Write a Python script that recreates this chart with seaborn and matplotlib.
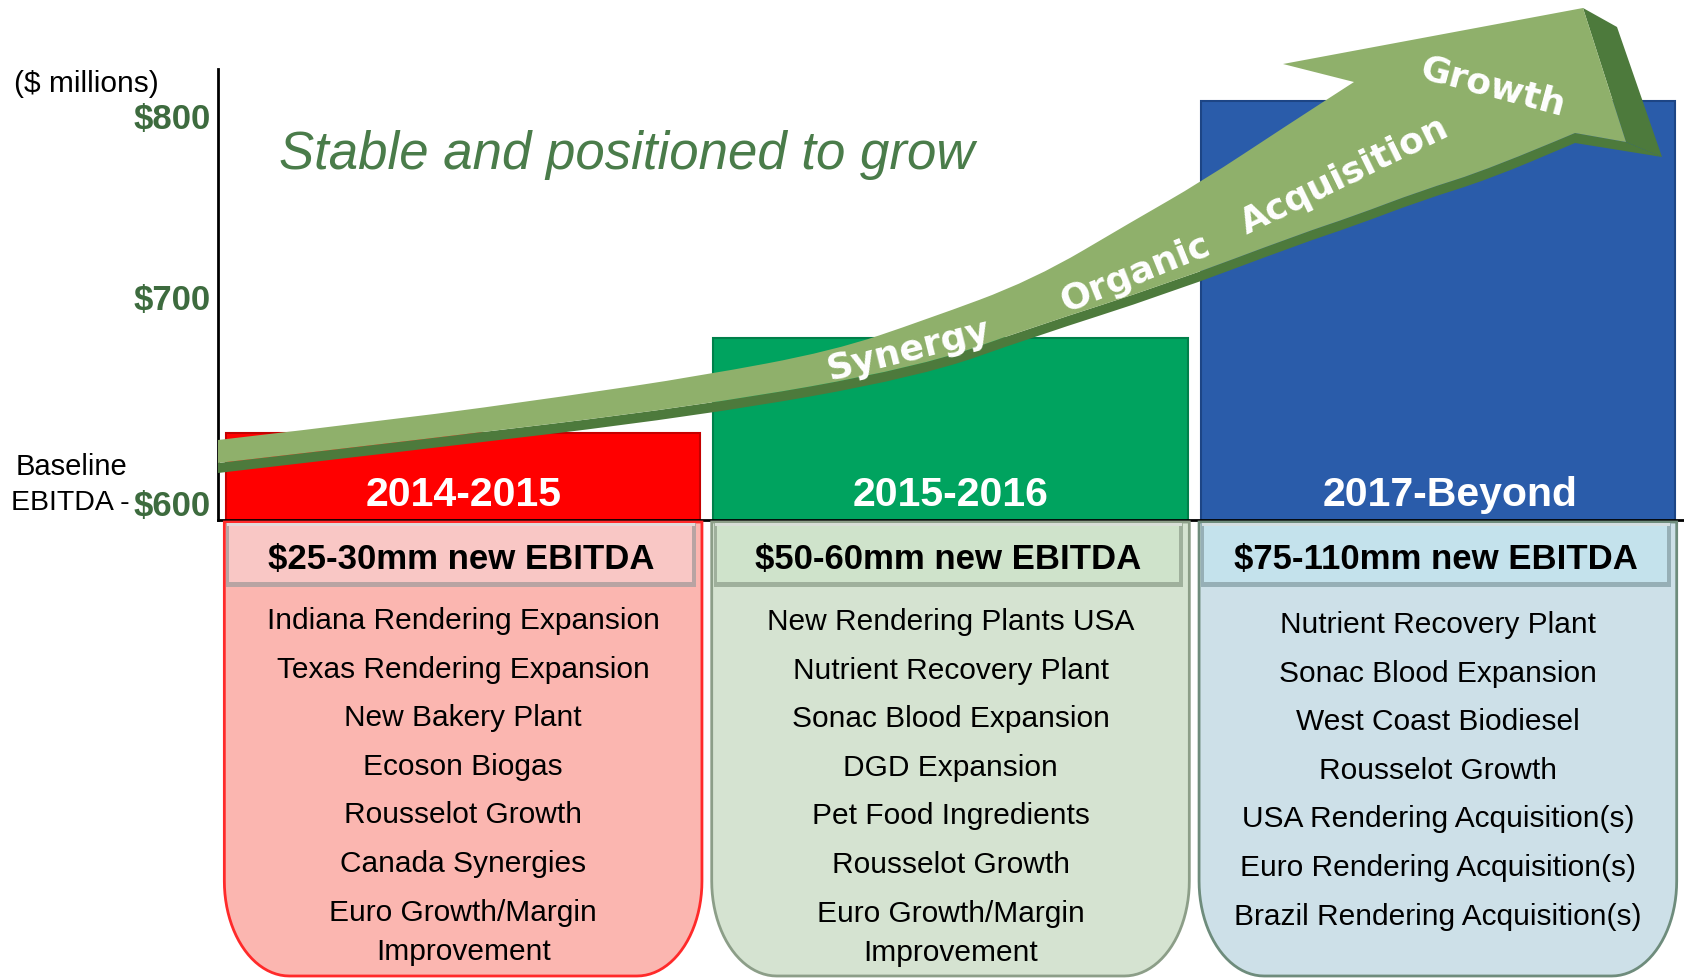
import numpy as np
import pandas as pd
import matplotlib
matplotlib.use("Agg")
import matplotlib.pyplot as plt
import seaborn as sns
import matplotlib.transforms as mtransforms
from matplotlib.path import Path
from matplotlib.patches import PathPatch, Polygon, Rectangle

# ---------------- data ----------------
periods = ["2014-2015", "2015-2016", "2017-Beyond"]
ebitda_level = [643, 690, 807]          # $ millions (bar tops)
y_ticks = [600, 700, 800]
bar_colors = ["#ff0000", "#00a35f", "#2a5caa"]
bar_edges = ["#c40000", "#00804a", "#1d4585"]
new_ebitda = ["$25-30mm new EBITDA", "$50-60mm new EBITDA", "$75-110mm new EBITDA"]
items_2014 = ["Indiana Rendering Expansion", "Texas Rendering Expansion", "New Bakery Plant",
              "Ecoson Biogas", "Rousselot Growth", "Canada Synergies",
              "Euro Growth/Margin\nImprovement"]
items_2015 = ["New Rendering Plants USA", "Nutrient Recovery Plant", "Sonac Blood Expansion",
              "DGD Expansion", "Pet Food Ingredients", "Rousselot Growth",
              "Euro Growth/Margin\nImprovement"]
items_2017 = ["Nutrient Recovery Plant", "Sonac Blood Expansion", "West Coast Biodiesel",
              "Rousselot Growth", "USA Rendering Acquisition(s)", "Euro Rendering Acquisition(s)",
              "Brazil Rendering Acquisition(s)"]
item_lists = [items_2014, items_2015, items_2017]
arrow_words = ["Synergy", "Organic", "Acquisition", "Growth"]

box_fill = ["#fbb6b0", "#d5e3d1", "#cde0e8"]
box_edge = ["#ff2a2a", "#8c9e88", "#6e8c7c"]
head_fill = ["#f9c7c5", "#cfe3cb", "#c4e2ec"]
head_edge = ["#b8a4a3", "#9fb09c", "#96afb6"]

# ---------------- style ----------------
sns.set_style("white")
plt.rcParams["font.family"] = ["Liberation Sans", "DejaVu Sans"]

W, H = 1684, 979
fig = plt.figure(figsize=(W / 100, H / 100), dpi=100)
px = mtransforms.Affine2D().scale(1 / W, -1 / H).translate(0, 1) + fig.transFigure

ax_left, ax_right, ax_top, ax_base = 218, 1684, 70, 521
ax = fig.add_axes([ax_left / W, 1 - ax_base / H, (ax_right - ax_left) / W, (ax_base - ax_top) / H])

df = pd.DataFrame({"period": periods, "ebitda": ebitda_level})
sns.barplot(data=df, x="period", y="ebitda", hue="period", palette=bar_colors,
            width=0.973, saturation=1, legend=False, ax=ax, linewidth=1.5)
for patch, ec in zip(ax.patches, bar_edges):
    patch.set_edgecolor(ec)

ax.set_xlim(-0.503, 2.505)
ax.set_ylim(600, 822.7)
sns.despine(ax=ax)
for s in ["left", "bottom"]:
    ax.spines[s].set_color("black")
    ax.spines[s].set_linewidth(2)
ax.set_xlabel("")
ax.set_ylabel("")
ax.tick_params(axis="x", bottom=False, labelbottom=False)
ax.set_yticks(y_ticks, labels=[f"${v}" for v in y_ticks])
ax.tick_params(axis="y", length=0, pad=5, labelsize=25, labelcolor="#3d6b3e")
label_lift = [0.18, 0.21, 0.0]   # inches; the reference spaces its labels unevenly
for lab, lift in zip(ax.get_yticklabels(), label_lift):
    lab.set_fontweight("bold")
    lab.set_transform(lab.get_transform() + mtransforms.ScaledTranslation(0, lift, fig.dpi_scale_trans))

label_shift = [0, 0, 12]
for i, p in enumerate(periods):
    ax.annotate(p, xy=(i, 600), xytext=(label_shift[i], 26), textcoords="offset pixels",
                ha="center", va="center", fontsize=29.5, fontweight="bold", color="white")

# ---------------- lower boxes ----------------
ax2 = fig.add_axes([ax_left / W, 0, (ax_right - ax_left) / W, (H - ax_base) / H])
ax2.set_xlim(ax.get_xlim())
ax2.set_ylim(H - ax_base, 0)
ax2.axis("off")

unit = (ax_right - ax_left) / (2.505 + 0.503)  # pixels per category unit
box_w = 0.98
box_top, box_bot = 2, 456
rx, ry = 65 / unit, 95


def rounded_bottom(x0, x1, yt, yb, rx, ry, n=24):
    pts = [(x0, yt)]
    th = np.linspace(np.pi, np.pi / 2, n)
    cx, cy = x0 + rx, yb - ry
    pts += list(zip(cx + rx * np.cos(th), cy + ry * np.sin(th)))
    th = np.linspace(np.pi / 2, 0, n)
    cx = x1 - rx
    pts += list(zip(cx + rx * np.cos(th), cy + ry * np.sin(th)))
    pts.append((x1, yt))
    return pts


for i in range(3):
    x0, x1 = i - box_w / 2, i + box_w / 2
    ax2.add_patch(Polygon(rounded_bottom(x0, x1, box_top, box_bot, rx, ry), closed=True,
                          facecolor=box_fill[i], edgecolor=box_edge[i], linewidth=2))
    hx0, hx1 = x0 + 0.004, x1 - 0.012
    ax2.add_patch(Rectangle((hx0, 3), hx1 - hx0, 64, facecolor=head_edge[i], edgecolor="none"))
    ax2.add_patch(Rectangle((hx0 + 3 / unit, 6), hx1 - hx0 - 7 / unit, 56,
                            facecolor=head_fill[i], edgecolor="none"))
    ax2.add_patch(Rectangle((hx0 + 1 / unit, 3), hx1 - hx0 - 2 / unit, 3,
                            facecolor="white", alpha=0.6, edgecolor="none"))
    ax2.text((hx0 + hx1) / 2, 38, new_ebitda[i], ha="center", va="center",
             fontsize=25, fontweight="bold", color="black")
    first = [100, 101, 104][i]
    for k, item in enumerate(item_lists[i]):
        for j, line in enumerate(item.split("\n")):
            ax2.text(i, first + k * 48.6 + j * 39, line, ha="center", va="center",
                     fontsize=21.5, color="black")

# ---------------- growth arrow (decoration) ----------------
top_edge = [(218, 441), (400, 420), (567, 397), (700, 377), (833, 352), (925, 321),
            (1033, 281), (1133, 222), (1201, 183), (1286, 127), (1354, 83)]
head = [(1283, 65), (1583, 9), (1626, 143), (1575, 134)]
bottom_edge = [(1575, 134), (1490, 170), (1420, 192), (1354, 217), (1300, 235),
               (1167, 285), (1033, 328), (920, 368), (700, 407), (400, 443), (218, 464)]


def smooth(points, verts, codes, first):
    p = np.asarray(points, float)
    verts.append(p[0])
    codes.append(Path.MOVETO if first else Path.LINETO)
    for k in range(1, len(p) - 1):
        mid = (p[k] + p[k + 1]) / 2
        verts += [p[k], mid]
        codes += [Path.CURVE3, Path.CURVE3]
    verts.append(p[-1]); codes.append(Path.LINETO)


def arrow_face():
    verts, codes = [], []
    smooth(top_edge, verts, codes, True)
    for x, y in head:
        verts.append((x, y)); codes.append(Path.LINETO)
    smooth(bottom_edge, verts, codes, False)
    verts.append((0, 0)); codes.append(Path.CLOSEPOLY)
    return Path(verts, codes)


def arrow_shadow(depth=10):
    verts, codes = [(1662, 158), (1626, 143)], [Path.MOVETO, Path.LINETO]
    smooth(bottom_edge, verts, codes, False)
    smooth([(x, y + depth) for x, y in bottom_edge[::-1]], verts, codes, False)
    verts.append((0, 0)); codes.append(Path.CLOSEPOLY)
    return Path(verts, codes)


fig.add_artist(PathPatch(arrow_shadow(), transform=px, facecolor="#4d7a3c", edgecolor="none", zorder=5))
fig.add_artist(Polygon([(1583, 9), (1617, 28), (1662, 158), (1626, 143)], closed=True,
                       transform=px, facecolor="#4d7a3c", edgecolor="none", zorder=5))
fig.add_artist(PathPatch(arrow_face(), transform=px, facecolor="#8fb06b", edgecolor="none", zorder=6))

word_pos = [(908, 350, 14), (1135, 274, 22), (1345, 176, 26), (1493, 87, -15)]
for word, (x, y, r) in zip(arrow_words, word_pos):
    fig.text(x, y, word, transform=px, ha="center", va="center", rotation=r,
             rotation_mode="anchor", fontsize=26, fontweight="bold", color="white",
             family=["DejaVu Sans"], zorder=7)

# ---------------- free texts ----------------
fig.text(279, 155, "Stable and positioned to grow", transform=px, ha="left", va="center",
         fontsize=38, style="italic", color="#4a7c4a")
fig.text(14, 84, "($ millions)", transform=px, ha="left", va="center", fontsize=21.5, color="black")
fig.text(16, 467, "Baseline", transform=px, ha="left", va="center", fontsize=21, color="black")
fig.text(11, 503, "EBITDA -", transform=px, ha="left", va="center", fontsize=20.5, color="black")

fig.savefig("out.png", dpi=100)
